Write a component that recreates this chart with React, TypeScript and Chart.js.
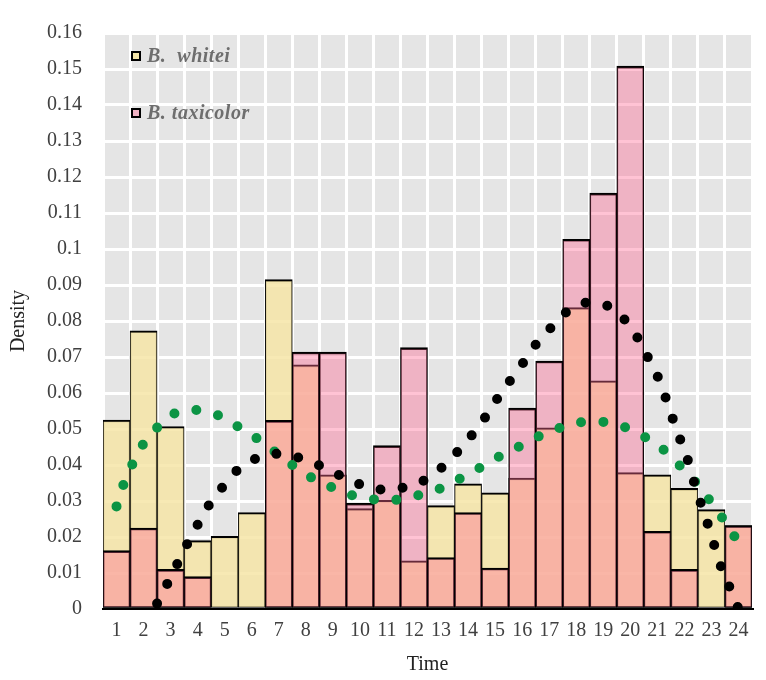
import { useEffect, useRef } from "react";
import { Chart, registerables } from "chart.js";

Chart.register(...registerables);

// Hourly activity densities (time of day bins 1–24)
const hours = ["1", "2", "3", "4", "5", "6", "7", "8", "9", "10", "11", "12", "13", "14", "15", "16", "17", "18", "19", "20", "21", "22", "23", "24"];

const whiteiDensity = [0.0525, 0.0773, 0.0507, 0.019, 0.0202, 0.0268, 0.0915, 0.0678, 0.0373, 0.0279, 0.0302, 0.0134, 0.0287, 0.0348, 0.0323, 0.0364, 0.0503, 0.0837, 0.0634, 0.0379, 0.0373, 0.0335, 0.0276, 0.0232];

const taxicolorDensity = [0.0162, 0.0225, 0.011, 0.009, 0, 0, 0.0524, 0.0714, 0.0714, 0.0294, 0.0454, 0.0726, 0.0143, 0.0268, 0.0114, 0.0558, 0.0689, 0.1027, 0.1155, 0.1508, 0.0216, 0.011, 0, 0.0232];

// Smoothed density curves (x in hour units)
const whiteiCurveX = [1.0, 1.25, 1.58, 1.97, 2.49, 3.14, 3.95, 4.73, 5.44, 6.15, 6.8, 7.48, 8.16, 8.9, 9.66, 10.44, 11.26, 12.1, 12.88, 13.64, 14.36, 15.06, 15.8, 16.54, 17.28, 18.08, 18.91, 19.72, 20.46, 21.14, 21.74, 22.29, 22.83, 23.32, 23.77, 24.0];
const whiteiCurveY = [0.0285, 0.0344, 0.0401, 0.0456, 0.0503, 0.0543, 0.0553, 0.0539, 0.0509, 0.0476, 0.044, 0.0401, 0.0367, 0.034, 0.0317, 0.0305, 0.0303, 0.0315, 0.0332, 0.036, 0.0389, 0.042, 0.0448, 0.0477, 0.05, 0.0518, 0.052, 0.0507, 0.0481, 0.0448, 0.0405, 0.0363, 0.0312, 0.0262, 0.0211, 0.0185];

const taxicolorCurveX = [2.5, 2.89, 3.26, 3.63, 4.02, 4.43, 4.95, 5.47, 6.13, 6.92, 7.75, 8.49, 9.23, 9.97, 10.74, 11.58, 12.32, 13.03, 13.6, 14.14, 14.63, 15.08, 15.55, 16.04, 16.5, 17.06, 17.62, 18.39, 19.16, 19.8, 20.28, 20.67, 21.04, 21.32, 21.59, 21.86, 22.15, 22.37, 22.62, 22.89, 23.13, 23.38, 23.69, 24.0];
const taxicolorCurveY = [0.0015, 0.0072, 0.0127, 0.0183, 0.0237, 0.029, 0.0341, 0.0386, 0.0417, 0.0431, 0.042, 0.0399, 0.0372, 0.0347, 0.0332, 0.0337, 0.0355, 0.0393, 0.0436, 0.0483, 0.0532, 0.0584, 0.0634, 0.0684, 0.0734, 0.0781, 0.0824, 0.0851, 0.0842, 0.0803, 0.0752, 0.0696, 0.0641, 0.0584, 0.0524, 0.0468, 0.0408, 0.0349, 0.0291, 0.023, 0.0171, 0.0112, 0.0057, 0.0];

const yMin = 0;
const yMax = 0.16;
const yStep = 0.01;

const speciesNames = ["B.  whitei", "B. taxicolor"];
const speciesSwatches = ["#F3E5A8", "#EFB2C3"];

const SERIF = '"Liberation Serif", "Times New Roman", serif';

const plotBackground = {
  id: "plotBackground",
  beforeDraw(chart: any) {
    const { ctx, chartArea } = chart;
    ctx.save();
    ctx.fillStyle = "#E5E5E5";
    ctx.fillRect(chartArea.left, chartArea.top, chartArea.right - chartArea.left, chartArea.bottom - chartArea.top);
    ctx.restore();
  },
};

const speciesLegend = {
  id: "speciesLegend",
  afterDraw(chart: any) {
    const { ctx, chartArea } = chart;
    ctx.save();
    speciesNames.forEach((name, i) => {
      const bx = chartArea.left + 29;
      const cy = chartArea.top + 23 + i * 57;
      ctx.fillStyle = speciesSwatches[i];
      ctx.fillRect(bx, cy - 4, 8, 8);
      ctx.strokeStyle = "#000";
      ctx.lineWidth = 2;
      ctx.strokeRect(bx, cy - 4, 8, 8);
      ctx.font = `italic bold 20px ${SERIF}`;
      (ctx as any).letterSpacing = "0.5px";
      ctx.fillStyle = "#6e6e6e";
      ctx.textBaseline = "alphabetic";
      ctx.textAlign = "left";
      ctx.fillText(name, bx + 15, cy + 6);
    });
    ctx.restore();
  },
};

export default function App() {
  const canvasRef = useRef<HTMLCanvasElement | null>(null);

  useEffect(() => {
    if (!canvasRef.current) return;
    const barBorder = { top: 2, left: 1, right: 1, bottom: 1 };
    const chart = new Chart(canvasRef.current, {
      type: "bar",
      data: {
        labels: hours,
        datasets: [
          {
            type: "line",
            label: "B. taxicolor density",
            xAxisID: "x2",
            data: taxicolorCurveX.map((x, i) => ({ x, y: taxicolorCurveY[i] })),
            borderColor: "#000000",
            borderWidth: 10,
            borderDash: [0, 22.17],
            borderCapStyle: "round",
            pointRadius: 0,
            fill: false,
            cubicInterpolationMode: "monotone",
            order: 0,
          } as any,
          {
            type: "line",
            label: "B. whitei density",
            xAxisID: "x2",
            data: whiteiCurveX.map((x, i) => ({ x, y: whiteiCurveY[i] })),
            borderColor: "#0B9444",
            borderWidth: 10,
            borderDash: [0, 22.4],
            borderCapStyle: "round",
            pointRadius: 0,
            fill: false,
            cubicInterpolationMode: "monotone",
            order: 0,
          } as any,
          {
            label: "B. taxicolor",
            xAxisID: "x",
            data: taxicolorDensity,
            backgroundColor: "rgba(254,104,147,0.4)",
            borderColor: "#000",
            borderWidth: barBorder,
            borderSkipped: false,
            grouped: false,
            barPercentage: 1,
            categoryPercentage: 1,
            order: 1,
          } as any,
          {
            label: "B. whitei",
            xAxisID: "x",
            data: whiteiDensity,
            backgroundColor: "rgba(246,229,167,0.85)",
            borderColor: "#000",
            borderWidth: barBorder,
            borderSkipped: false,
            grouped: false,
            barPercentage: 1,
            categoryPercentage: 1,
            order: 2,
          } as any,
        ],
      },
      options: {
        responsive: false,
        animation: false,
        events: [],
        layout: { padding: { top: 25, right: 14, bottom: 0, left: 0 } },
        plugins: {
          legend: { display: false },
          tooltip: { enabled: false },
        },
        scales: {
          x: {
            type: "category",
            offset: true,
            grid: { color: "#ffffff", lineWidth: 3, drawTicks: false, offset: true },
            border: { display: true, color: "#000", width: 2 },
            ticks: {
              color: "#404040",
              font: { family: SERIF, size: 20 },
              padding: 10,
              maxRotation: 0,
              minRotation: 0,
              autoSkip: false,
            },
            title: {
              display: true,
              text: "Time",
              color: "#222",
              font: { family: SERIF, size: 20 },
              padding: { top: 0, bottom: 3 },
            },
            afterFit: (s: any) => {
              s.height = 71;
            },
          },
          x2: {
            type: "linear",
            display: false,
            min: 0.5,
            max: 24.5,
            offset: false,
          },
          y: {
            min: yMin,
            max: yMax,
            grid: { color: "#ffffff", lineWidth: 3, drawTicks: false },
            border: { display: false },
            ticks: {
              stepSize: yStep,
              color: "#404040",
              font: { family: SERIF, size: 20 },
              padding: 21,
              callback: (v: any) => String(Number(Number(v).toFixed(2))),
            },
            title: {
              display: true,
              text: "Density",
              color: "#222",
              font: { family: SERIF, size: 20 },
              padding: { top: 7, bottom: 0 },
            },
            afterFit: (s: any) => {
              s.width = 103;
            },
          },
        },
      } as any,
      plugins: [plotBackground, speciesLegend],
    });
    return () => chart.destroy();
  }, []);

  return (
    <div style={{ position: "absolute", left: 0, top: 0, width: 766, height: 680 }}>
      <canvas ref={canvasRef} width={766} height={680} style={{ display: "block" }} />
    </div>
  );
}
